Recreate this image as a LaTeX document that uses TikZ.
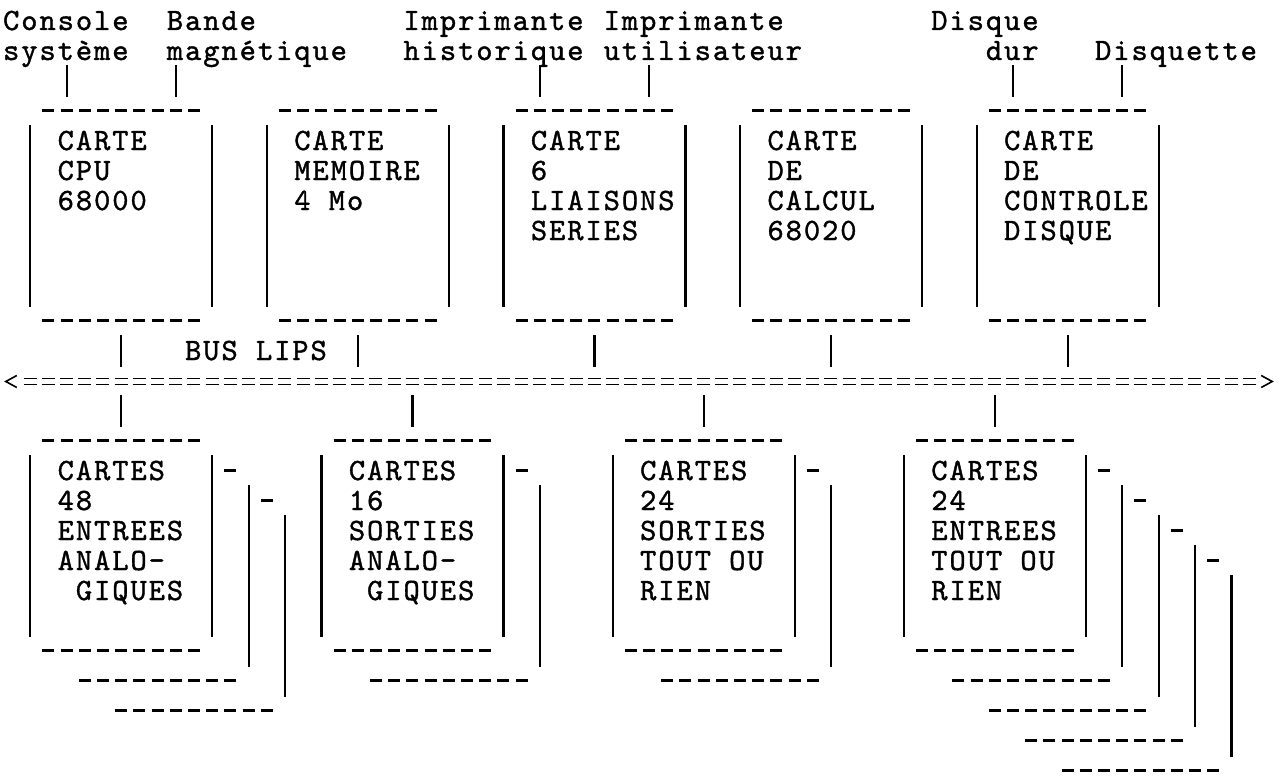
\documentclass[tikz,border=0pt]{standalone}
\usepackage{fontspec}
\usepackage{tikz}
\newfontfamily\asciitt[LetterSpace=6.2, FakeBold=1.2]{lmmono10-regular.otf}
% grille : colonne -> x, ligne -> ligne de base
\newcommand{\cx}[1]{12+18.2*(#1)}
\newcommand{\by}[1]{30+30*(#1)}
% carte : nom, colonne gauche, ligne du haut, nombre de cartes derriere, lignes de texte
\newcommand{\carte}[5]{%
  \node[carte] (#1) at ({\cx{#2+5}},{\by{#3}+95.5}) {};
  \draw[tiret] ([shift={(12.2,0)}]#1.north west) -- ([shift={(-12.2,0)}]#1.north east);
  \draw[tiret] ([shift={(12.2,0)}]#1.south west) -- ([shift={(-12.2,0)}]#1.south east);
  \draw[trait] ([shift={(0,14.5)}]#1.north west) -- ([shift={(0,-13.5)}]#1.south west);
  \draw[trait] ([shift={(0,14.5)}]#1.north east) -- ([shift={(0,-13.5)}]#1.south east);
  \foreach \ligne [count=\i] in {#5}
    \node[txt] (#1-\i) at ({\cx{#2+2}-9.1},{\by{#3+\i}}) {\ligne};
  \ifnum#4>0
  \foreach \k in {1,...,#4}{
    \draw[tiret] ([shift={(36.4*\k-24.2,30*\k)}]#1.north east) -- ++(12,0);
    \draw[trait] ([shift={(36.4*\k,30*\k+14.5)}]#1.north east) -- ([shift={(36.4*\k,30*\k-13.5)}]#1.south east);
    \draw[tiret] ([shift={(36.4*\k+12.2,30*\k)}]#1.south west) -- ([shift={(36.4*\k-12.2,30*\k)}]#1.south east);
  }
  \fi
}
\tikzset{
  txt/.style={font=\asciitt\fontsize{31pt}{30pt}\selectfont, anchor=base west, inner sep=0pt},
  carte/.style={minimum width=182pt, minimum height=210pt, inner sep=0pt, outer sep=0pt},
  tiret/.style={line width=2.6pt, dash pattern=on 12pt off 6.2pt},
  trait/.style={line width=2.2pt},
  egal/.style={line width=1.6pt, dash pattern=on 13pt off 5.2pt},
  lienhaut/.style={trait, shorten <=5pt, shorten >=13.5pt},
  lienbus/.style={trait, shorten <=14.5pt, shorten >=11.5pt},
  lienbas/.style={trait, shorten <=10.5pt, shorten >=13.5pt}
}

\begin{document}
\begin{tikzpicture}[x=1pt, y=-1pt]
  \fill[white] (0,0) rectangle (1278,776);
  \useasboundingbox (0,0) rectangle (1278,776);
  % peripheriques
  \foreach \nom/\c/\r/\texte in {console/0/0/Console, bande/9/0/Bande,
      imphist/22/0/Imprimante, imputil/33/0/Imprimante, disque/51/0/Disque,
      systeme/0/1/système, magnetique/9/1/magnétique, historique/22/1/historique,
      utilisateur/33/1/utilisateur, dur/54/1/dur, disquette/60/1/Disquette}
    \node[txt] (\nom) at ({\cx{\c}-9.1},{\by{\r}}) {\texte};
  % cartes du haut
  \carte{cpu}{1}{3}{0}{CARTE,CPU,68000}
  \carte{mem}{14}{3}{0}{CARTE,MEMOIRE,4 Mo}
  \carte{serial}{27}{3}{0}{CARTE,6,LIAISONS,SERIES}
  \carte{calc}{40}{3}{0}{CARTE,DE,CALCUL,68020}
  \carte{disk}{53}{3}{0}{CARTE,DE,CONTROLE,DISQUE}
  % bus
  \node[minimum width=1268pt, minimum height=6pt, inner sep=0pt] (bus) at (639,381.5) {};
  \draw[egal] ([shift={(18.7,-3)}]bus.west) -- ([shift={(-16.9,-3)}]bus.east);
  \draw[egal] ([shift={(18.7,3)}]bus.west) -- ([shift={(-16.9,3)}]bus.east);
  \draw[trait, line width=1.6pt] ([shift={(12,-6)}]bus.west) -- ([shift={(1,0)}]bus.west) -- ([shift={(12,6)}]bus.west);
  \draw[trait, line width=1.6pt] ([shift={(-12,-6)}]bus.east) -- ([shift={(-1,0)}]bus.east) -- ([shift={(-12,6)}]bus.east);
  \node[txt] (buslips) at ({\cx{10}-9.1},{\by{11}}) {BUS LIPS};
  % cartes du bas
  \carte{anain}{1}{14}{2}{CARTES,48,ENTREES,ANALO-,{\hspace*{18.2pt}GIQUES}}
  \carte{anaout}{17}{14}{1}{CARTES,16,SORTIES,ANALO-,{\hspace*{18.2pt}GIQUES}}
  \carte{torout}{33}{14}{1}{CARTES,24,SORTIES,TOUT OU,RIEN}
  \carte{torin}{49}{14}{4}{CARTES,24,ENTREES,TOUT OU,RIEN}
  % liaisons
  \foreach \b in {cpu,serial,disk}{
    \coordinate (\b-g) at ([shift={(-54.6,0)}]\b.north);
    \coordinate (\b-d) at ([shift={(54.6,0)}]\b.north);
  }
  \draw[lienhaut] (systeme.base -| cpu-g) -- (cpu-g);
  \draw[lienhaut] (magnetique.base -| cpu-d) -- (cpu-d);
  \draw[lienhaut] (historique.base -| serial-g) -- (serial-g);
  \draw[lienhaut] (utilisateur.base -| serial-d) -- (serial-d);
  \draw[lienhaut] (dur.base -| disk-g) -- (disk-g);
  \draw[lienhaut] (disquette.base -| disk-d) -- (disk-d);
  \foreach \b in {cpu,mem,serial,calc,disk}
    \draw[lienbus] (\b.south) -- (\b.south |- bus.north);
  \foreach \b in {anain,anaout,torout,torin}
    \draw[lienbas] (bus.south -| \b.north) -- (\b.north);
\end{tikzpicture}
\end{document}
